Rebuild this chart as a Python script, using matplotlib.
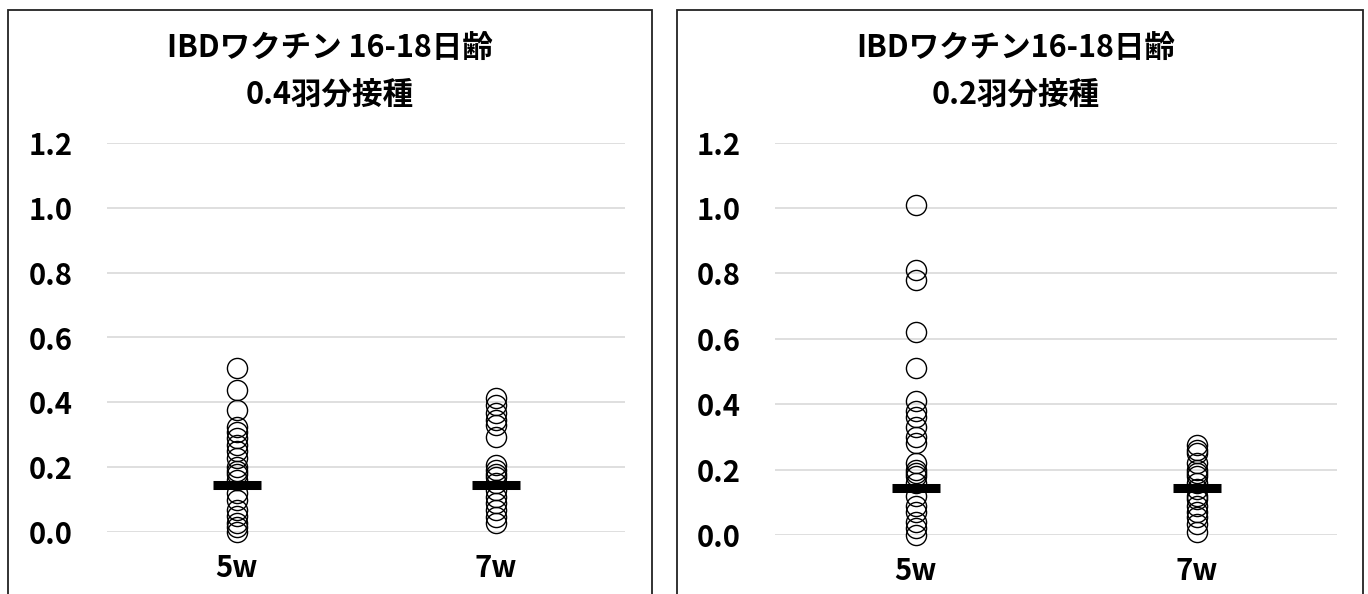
import matplotlib
matplotlib.use("Agg")
import matplotlib.pyplot as plt
from matplotlib.patches import Rectangle

plt.rcParams['font.family'] = ['Noto Sans CJK JP', 'DejaVu Sans']

categories = ["5w", "7w"]
yticks = [0.0, 0.2, 0.4, 0.6, 0.8, 1.0, 1.2]

title_left = "IBDワクチン 16-18日齢\n0.4羽分接種"
title_right = "IBDワクチン16-18日齢\n0.2羽分接種"

left_5w = [0.505, 0.438, 0.377, 0.323, 0.31, 0.29, 0.27, 0.25, 0.23, 0.20,
           0.19, 0.18, 0.16, 0.12, 0.10, 0.07, 0.05, 0.03, 0.015, 0.0]
left_7w = [0.413, 0.392, 0.366, 0.346, 0.33, 0.294, 0.207, 0.192, 0.18, 0.171,
           0.151, 0.13, 0.11, 0.089, 0.069, 0.048, 0.028]
right_5w = [1.01, 0.81, 0.78, 0.62, 0.51, 0.41, 0.38, 0.36, 0.33, 0.30, 0.28,
            0.22, 0.20, 0.19, 0.18, 0.16, 0.12, 0.09, 0.07, 0.04, 0.02, 0.0]
right_7w = [0.275, 0.26, 0.25, 0.22, 0.20, 0.19, 0.18, 0.16, 0.14, 0.12,
            0.11, 0.09, 0.07, 0.055, 0.035, 0.01]

left_means = [0.146, 0.146]
right_means = [0.143, 0.143]

W, H = 1368, 594
fig = plt.figure(figsize=(W / 100, H / 100), dpi=100)

def px_rect(x0, x1, ytop, ybot):
    return [x0 / W, 1 - ybot / H, (x1 - x0) / W, (ybot - ytop) / H]

# panel borders
for x0, x1 in [(8, 652), (677, 1363)]:
    fig.patches.append(Rectangle((x0 / W, -0.05), (x1 - x0) / W, 1 - 10 / H + 0.05,
                                 transform=fig.transFigure, fill=False,
                                 edgecolor='#222222', linewidth=1.3))

panels = [
    (px_rect(107, 625, 142.7, 532.3), [left_5w, left_7w], left_means, title_left, 330),
    (px_rect(775, 1337, 142.7, 535.0), [right_5w, right_7w], right_means, title_right, 1016),
]

for rect, series, means, title, tcx in panels:
    ax = fig.add_axes(rect)
    ax.set_xlim(-0.5, 1.5)
    ax.set_ylim(0, 1.2)
    for i, vals in enumerate(series):
        ax.plot([i] * len(vals), vals, linestyle='none', marker='o',
                markersize=14.5, markerfacecolor='none', markeredgecolor='black',
                markeredgewidth=1.0, clip_on=False, zorder=3)
    ax.plot(range(len(categories)), means, linestyle='none', marker='_',
            markersize=34, markeredgewidth=6.5, color='black', clip_on=False, zorder=4)
    ax.set_yticks(yticks)
    ax.set_yticklabels([f"{v:.1f}" for v in yticks], fontsize=21, fontweight='bold')
    ax.set_xticks(range(len(categories)))
    ax.set_xticklabels(categories, fontsize=21, fontweight='bold')
    ax.tick_params(axis='y', length=0, pad=25)
    ax.tick_params(axis='x', length=0, pad=15)
    ax.grid(axis='y', color='#d9d9d9', linewidth=1.2)
    ax.set_axisbelow(True)
    for s in ax.spines.values():
        s.set_visible(False)
    fig.text(tcx / W, 1 - 71 / H, title, ha='center', va='center', fontsize=22,
             fontweight='bold', linespacing=1.6)

fig.savefig("out.png", dpi=100)
